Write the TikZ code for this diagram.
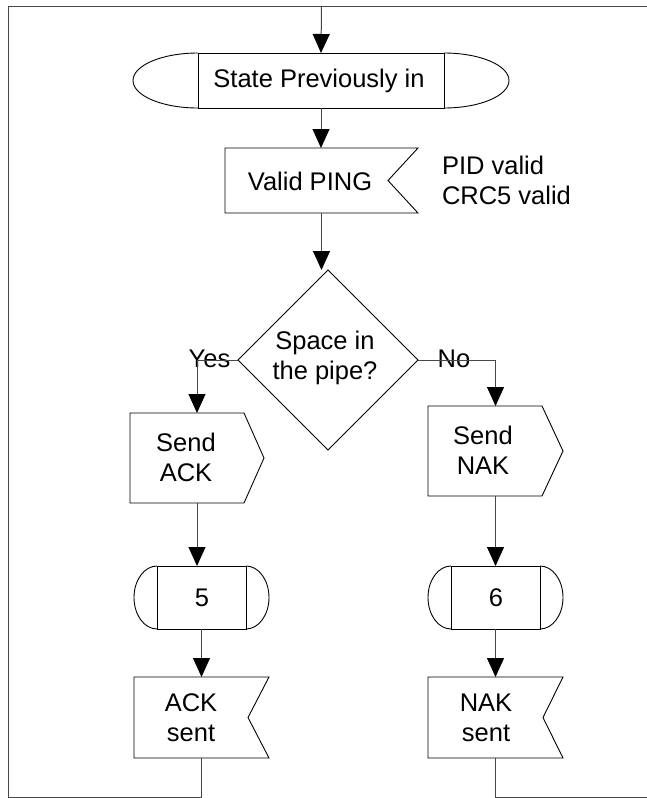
\documentclass[tikz,border=0pt]{standalone}
\usepackage{fontspec}
\setmainfont{Liberation Sans}
\usetikzlibrary{calc,arrows.meta}
\begin{document}
\begin{tikzpicture}[x=1pt,y=-1pt,
  holder/.style={draw=none,rectangle,inner sep=0pt,outer sep=0pt},
  shp/.style={draw=black,line width=0.9pt,line join=miter},
  conn/.style={draw=black!72,line width=1pt},
  arr/.style={conn,-{Triangle[length=19pt,width=17pt,color=black]}},
  txt/.style={font=\fontsize{25.5}{30}\selectfont,align=center,inner sep=0pt,outer sep=0pt}]
\useasboundingbox (0,0) rectangle (647,798);
% frame corners
\coordinate (tl) at (8,6);
\coordinate (tr) at (648,6);
\coordinate (bl) at (8,797);
\coordinate (br) at (648,797);
\coordinate (topin) at (321.5,6);
% holders
\node[holder,minimum width=246pt,minimum height=55pt] (state) at (321,80.5) {};
\node[holder,minimum width=193pt,minimum height=65pt] (ping) at (321.5,180.5) {};
\node[holder,minimum width=180pt,minimum height=180pt] (dec) at (328,360) {};
\node[holder,minimum width=134pt,minimum height=90pt] (sack) at (197,458) {};
\node[holder,minimum width=135pt,minimum height=90pt] (snak) at (495.5,451) {};
\node[holder,minimum width=135pt,minimum height=63pt] (t5) at (201.5,597.5) {};
\node[holder,minimum width=135pt,minimum height=63pt] (t6) at (495.5,597.5) {};
\node[holder,minimum width=135pt,minimum height=81pt] (asent) at (201.5,717.5) {};
\node[holder,minimum width=135pt,minimum height=81pt] (nsent) at (495.5,717.5) {};
% shapes
\draw[shp] (state.north west) rectangle (state.south east);
\draw[shp] (state.north west) .. controls ($(state.north west)+(-35.9,0)$) and ($(state.west)+(-65,-15.2)$) .. ($(state.west)+(-65,0)$)
  .. controls ($(state.west)+(-65,15.2)$) and ($(state.south west)+(-35.9,0)$) .. (state.south west);
\draw[shp] (state.north east) .. controls ($(state.north east)+(35.9,0)$) and ($(state.east)+(65,-15.2)$) .. ($(state.east)+(65,0)$)
  .. controls ($(state.east)+(65,15.2)$) and ($(state.south east)+(35.9,0)$) .. (state.south east);
\draw[shp] (ping.north west) -- (ping.north east) -- ($(ping.east)+(-30,0)$) -- (ping.south east) -- (ping.south west) -- cycle;
\draw[shp] (dec.north) -- (dec.east) -- (dec.south) -- (dec.west) -- cycle;
\draw[shp] (sack.north west) -- ($(sack.north east)+(-20,0)$) -- (sack.east) -- ($(sack.south east)+(-20,0)$) -- (sack.south west) -- cycle;
\draw[shp] (snak.north west) -- ($(snak.north east)+(-21,0)$) -- (snak.east) -- ($(snak.south east)+(-21,0)$) -- (snak.south west) -- cycle;
\foreach \t in {t5,t6}{
  \draw[shp] ($(\t.north west)+(23,0)$) rectangle ($(\t.south east)+(-23,0)$);
  \draw[shp] ($(\t.north west)+(23,0)$) .. controls ($(\t.north west)+(10.3,0)$) and ($(\t.west)+(0,-17.4)$) .. (\t.west)
    .. controls ($(\t.west)+(0,17.4)$) and ($(\t.south west)+(10.3,0)$) .. ($(\t.south west)+(23,0)$);
  \draw[shp] ($(\t.north east)+(-23,0)$) .. controls ($(\t.north east)+(-10.3,0)$) and ($(\t.east)+(0,-17.4)$) .. (\t.east)
    .. controls ($(\t.east)+(0,17.4)$) and ($(\t.south east)+(-10.3,0)$) .. ($(\t.south east)+(-23,0)$);
}
\draw[shp] (asent.north west) -- (asent.north east) -- ($(asent.east)+(-21,0)$) -- (asent.south east) -- (asent.south west) -- cycle;
\draw[shp] (nsent.north west) -- (nsent.north east) -- ($(nsent.east)+(-20,0)$) -- (nsent.south east) -- (nsent.south west) -- cycle;
% texts
\node[txt] (statetxt) at (319,81) {State Previously in};
\node[txt] (pingtxt) at (310,181) {Valid PING};
\node[txt,anchor=west,align=left] (pidtxt) at (442,180) {PID valid\\CRC5 valid};
\node[txt] (dectxt) at (325,358) {Space in\\the pipe?};
\node[txt] (sacktxt) at (186,457) {Send\\ACK};
\node[txt] (snaktxt) at (483,450) {Send\\NAK};
\node[txt] (t5txt) at (202,598) {5};
\node[txt] (t6txt) at (496,598) {6};
\node[txt] (asenttxt) at (191,718) {ACK\\sent};
\node[txt] (nsenttxt) at (486,718) {NAK\\sent};
\node[txt,anchor=base] (yestxt) at (209.5,367) {Yes};
\node[txt,anchor=base] (notxt) at (454,367) {No};
% connectors
\draw[conn] (tr) -- (tl) -- (bl) -- (bl -| asent.south) -- (asent.south);
\draw[conn] (br) -- (br -| nsent.south) -- (nsent.south);
\draw[arr] (topin) -- (state.north);
\draw[arr] (state.south) -- (state.south |- ping.north);
\draw[arr] (ping.south) -- (ping.south |- dec.north);
\draw[arr] (dec.west) -| (sack.north);
\draw[arr] (dec.east) -| (snak.north);
\draw[arr] (sack.south) -- (sack.south |- t5.north);
\draw[arr] (t5.south) -- (asent.north);
\draw[arr] (snak.south) -- (snak.south |- t6.north);
\draw[arr] (t6.south) -- (nsent.north);
\end{tikzpicture}
\end{document}
